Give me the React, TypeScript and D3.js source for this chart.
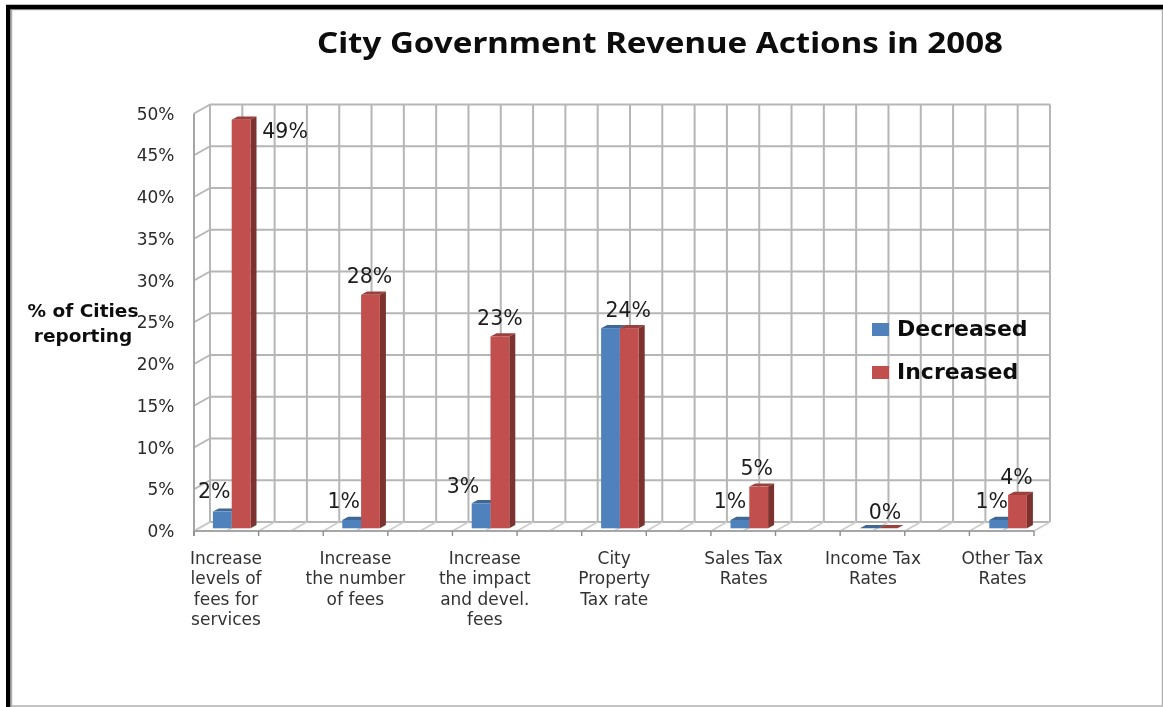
import { useEffect, useRef } from 'react';
import * as d3 from 'd3';

const categories = [
  ['Increase', 'levels of', 'fees for', 'services'],
  ['Increase', 'the number', 'of fees'],
  ['Increase', 'the impact', 'and devel.', 'fees'],
  ['City', 'Property', 'Tax rate'],
  ['Sales Tax', 'Rates'],
  ['Income Tax', 'Rates'],
  ['Other Tax', 'Rates'],
];
const decreased = [2, 1, 3, 24, 1, 0, 1];
const increased = [49, 28, 23, 24, 5, 0, 4];
const seriesNames = ['Decreased', 'Increased'];
const yTicks = [0, 5, 10, 15, 20, 25, 30, 35, 40, 45, 50];

// label nudges from the top centre of each bar; null = hidden behind the other series
const decNudge: ([number, number] | null)[] = [[-8, -21], [-8, -19], [-18, -18], null, [-10, -19], null, [-7, -19]];
const incNudge: [number, number][] = [[44, 11], [-1, -19], [0, -19], [-1, -19], [-2, -19], [-3, -17], [-1, -18]];

const W = 1163, H = 707;
const BLUE = '#4f81bd', BLUE_TOP = '#3f6797', RED = '#c0504d', RED_TOP = '#9a403e', RED_SIDE = '#7c302e';
const GRID = '#b6b6b6';
const SANS = '"DejaVu Sans", sans-serif';

export default function App() {
  const svgRef = useRef<SVGSVGElement>(null);

  useEffect(() => {
    if (!svgRef.current) return;
    const svg = d3.select(svgRef.current);
    svg.selectAll('*').remove();

    svg.append('defs').append('filter').attr('id', 'soft')
      .attr('x', 0).attr('y', 0).attr('width', 1).attr('height', 1)
      .attr('filterUnits', 'objectBoundingBox')
      .append('feGaussianBlur').attr('stdDeviation', 0.5);

    svg.append('rect').attr('width', W).attr('height', H).attr('fill', '#fff');
    const g = svg.append('g').attr('filter', 'url(#soft)');
    g.append('rect').attr('width', W).attr('height', H).attr('fill', '#fff');

    // picture frame
    g.append('path').attr('d', `M11.5 707V9.5H1162.5V706H11.5`).attr('fill', 'none').attr('stroke', '#b0b0b0').attr('stroke-width', 1.5);
    g.append('path').attr('d', `M8.2 707V7H1163`).attr('fill', 'none').attr('stroke', '#000').attr('stroke-width', 4.4);

    // front plane of the axes, and the wall/bar planes offset from it
    const yFront = d3.scaleLinear().domain([0, 50]).range([531, 113.5]);
    const back = { dx: 16, dy: -9 };
    const xGrid = d3.scaleLinear().domain([0, 26]).range([194, 1034]);
    const gridSteps = d3.range(0, 27);

    const grid = g.append('g').attr('fill', 'none').attr('stroke', GRID).attr('stroke-width', 2);
    // back wall
    grid.selectAll('line.h').data(yTicks).enter().append('line').attr('class', 'h')
      .attr('x1', xGrid(0) + back.dx).attr('x2', xGrid(26) + back.dx)
      .attr('y1', d => yFront(d) + back.dy).attr('y2', d => yFront(d) + back.dy);
    grid.selectAll('line.v').data(gridSteps).enter().append('line').attr('class', 'v')
      .attr('x1', d => xGrid(d) + back.dx).attr('x2', d => xGrid(d) + back.dx)
      .attr('y1', yFront(50) + back.dy).attr('y2', yFront(0) + back.dy);
    // left wall
    grid.selectAll('line.w').data(yTicks).enter().append('line').attr('class', 'w')
      .attr('x1', xGrid(0)).attr('x2', xGrid(0) + back.dx)
      .attr('y1', d => yFront(d)).attr('y2', d => yFront(d) + back.dy);
    // floor
    grid.selectAll('line.f').data(gridSteps).enter().append('line').attr('class', 'f')
      .attr('x1', d => xGrid(d)).attr('x2', d => xGrid(d) + back.dx)
      .attr('y1', yFront(0)).attr('y2', yFront(0) + back.dy).attr('stroke', '#cdcdcd').attr('stroke-width', 1.6);
    // axis lines and ticks
    grid.append('line').attr('x1', xGrid(0)).attr('x2', xGrid(0)).attr('y1', yFront(50)).attr('y2', yFront(0) + 5).attr('stroke', '#a6a6a6');
    grid.append('line').attr('x1', xGrid(0)).attr('x2', xGrid(26)).attr('y1', yFront(0)).attr('y2', yFront(0)).attr('stroke', '#a6a6a6');
    grid.selectAll('line.t').data(gridSteps.filter(d => d % 2 === 0)).enter().append('line').attr('class', 't')
      .attr('x1', d => xGrid(d)).attr('x2', d => xGrid(d))
      .attr('y1', yFront(0)).attr('y2', yFront(0) + 5).attr('stroke', '#8c8c8c').attr('stroke-width', 1.4);

    // y tick labels
    g.append('g').selectAll('text').data(yTicks).enter().append('text')
      .attr('x', 174.5).attr('y', d => yFront(d) + 6.2)
      .attr('text-anchor', 'end').attr('font-family', SANS).attr('font-size', 17).attr('fill', '#2b2b2b')
      .text(d => `${d}%`);

    // bars
    const x0 = d3.scaleBand<number>().domain(d3.range(categories.length)).range([167, 167 + 7 * 129.4]);
    const x1 = d3.scaleBand<string>().domain(seriesNames).range([0, 37.6]);
    const yBar = d3.scaleLinear().domain([0, 50]).range([528.3, 111.3]);
    const barLeft = (i: number) => x0(i)! + x0.bandwidth() / 2 - x1.bandwidth();
    const depth = { dx: 6, dy: -3.2 };

    const drawBar = (i: number, name: string, v: number, front: string, top: string, side: string) => {
      const l = barLeft(i) + x1(name)!;
      const r = l + x1.bandwidth();
      const t = yBar(v), b = yBar(0);
      const p = d3.path();
      p.moveTo(l, t); p.lineTo(l + depth.dx, t + depth.dy); p.lineTo(r + depth.dx, t + depth.dy); p.lineTo(r, t); p.closePath();
      g.append('path').attr('d', p.toString()).attr('fill', top);
      if (v <= 0) return;
      const s = d3.path();
      s.moveTo(r, t); s.lineTo(r + depth.dx, t + depth.dy); s.lineTo(r + depth.dx, b + depth.dy); s.lineTo(r, b); s.closePath();
      g.append('path').attr('d', s.toString()).attr('fill', side);
      g.append('rect').attr('x', l).attr('y', t).attr('width', x1.bandwidth()).attr('height', b - t).attr('fill', front);
    };
    categories.forEach((_, i) => {
      drawBar(i, 'Decreased', decreased[i], BLUE, BLUE_TOP, BLUE_TOP);
      drawBar(i, 'Increased', increased[i], RED, RED_TOP, RED_SIDE);
    });

    // data labels
    const dataLabel = (i: number, name: string, v: number, nudge: [number, number] | null) => {
      if (!nudge) return;
      g.append('text')
        .attr('x', barLeft(i) + x1(name)! + x1.bandwidth() / 2 + nudge[0])
        .attr('y', yBar(v) + nudge[1] + 7.5)
        .attr('text-anchor', 'middle').attr('font-family', SANS).attr('font-size', 20.5).attr('fill', '#1c1c1c')
        .text(`${v}%`);
    };
    categories.forEach((_, i) => {
      dataLabel(i, 'Decreased', decreased[i], decNudge[i]);
      dataLabel(i, 'Increased', increased[i], incNudge[i]);
    });

    // category labels
    categories.forEach((lines, i) => {
      const cx = x0(i)! + x0.bandwidth() / 2 - 5.7;
      g.append('g').selectAll('text').data(lines).enter().append('text')
        .attr('x', cx).attr('y', (_, k) => 563.5 + k * 20.6)
        .attr('text-anchor', 'middle').attr('font-family', SANS).attr('font-size', 17).attr('fill', '#333')
        .text(d => d);
    });

    // title and axis title
    g.append('text').attr('x', 317).attr('y', 53)
      .attr('textLength', 686).attr('lengthAdjust', 'spacingAndGlyphs')
      .attr('font-family', '"Noto Sans", sans-serif').attr('font-weight', 700).attr('font-size', 29).attr('fill', '#0a0a0a')
      .text('City Government Revenue Actions in 2008');
    g.append('g').selectAll('text').data(['% of Cities', 'reporting']).enter().append('text')
      .attr('x', 83).attr('y', (_, k) => 317 + k * 25)
      .attr('text-anchor', 'middle').attr('font-family', SANS).attr('font-weight', 700).attr('font-size', 18.5).attr('fill', '#111')
      .text(d => d);

    // legend
    const legendY = d3.scalePoint<string>().domain(seriesNames).range([329.5, 372.5]);
    const legend = g.append('g').selectAll('g').data(seriesNames).enter().append('g');
    legend.append('rect').attr('x', 872).attr('y', d => legendY(d)! - 6.5).attr('width', 17).attr('height', 13)
      .attr('fill', (_, k) => (k ? RED : BLUE));
    legend.append('text').attr('x', 897).attr('y', d => legendY(d)! + 6.5)
      .attr('font-family', SANS).attr('font-weight', 700).attr('font-size', 22).attr('fill', '#111')
      .text(d => d);
  }, []);

  return <svg ref={svgRef} width={W} height={H} viewBox={`0 0 ${W} ${H}`} style={{ position: 'absolute', left: 0, top: 0, display: 'block' }} />;
}
